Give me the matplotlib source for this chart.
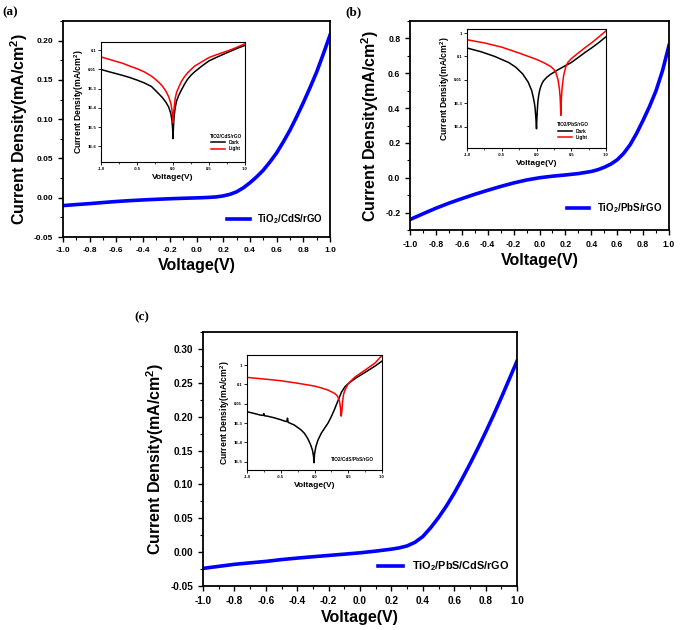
import matplotlib
matplotlib.use("Agg")
import matplotlib.pyplot as plt
from matplotlib.ticker import MultipleLocator, FixedLocator, NullLocator, FixedFormatter

plt.rcParams['font.family'] = ['Liberation Sans', 'DejaVu Sans']
plt.rcParams['font.weight'] = 'bold'
plt.rcParams['mathtext.default'] = 'regular'

# ---------------- data ----------------
# Panel (a) main J-V
va = [-1.0, -0.9, -0.8, -0.7, -0.6, -0.5, -0.4, -0.3, -0.2, -0.1, 0.0, 0.05, 0.1, 0.15, 0.2,
      0.25, 0.3, 0.35, 0.4, 0.45, 0.5, 0.55, 0.6, 0.65, 0.7, 0.75, 0.8, 0.85, 0.9, 0.95, 1.0]
ja = [-0.010, -0.0087, -0.0075, -0.0061, -0.0048, -0.0037, -0.0028, -0.0020, -0.0013, -0.0007,
      -0.0002, 0.0001, 0.0005, 0.0011, 0.0023, 0.0043, 0.0075, 0.0125, 0.019, 0.0265, 0.035,
      0.0455, 0.057, 0.071, 0.086, 0.103, 0.121, 0.140, 0.160, 0.183, 0.207]
# Panel (b) main
vb = [-1.0, -0.9, -0.8, -0.7, -0.6, -0.5, -0.4, -0.3, -0.2, -0.1, 0.0, 0.1, 0.2, 0.3, 0.4,
      0.45, 0.5, 0.55, 0.6, 0.65, 0.7, 0.75, 0.8, 0.85, 0.9, 0.95, 1.0]
jb = [-0.24, -0.207, -0.175, -0.146, -0.12, -0.095, -0.072, -0.05, -0.03, -0.013, 0.0, 0.009,
      0.016, 0.024, 0.036, 0.046, 0.06, 0.078, 0.103, 0.14, 0.19, 0.255, 0.33, 0.41, 0.50,
      0.615, 0.76]
# Panel (c) main
vc = [-1.0, -0.9, -0.8, -0.7, -0.6, -0.5, -0.4, -0.3, -0.2, -0.1, 0.0, 0.1, 0.2, 0.25, 0.3,
      0.35, 0.4, 0.45, 0.5, 0.55, 0.6, 0.65, 0.7, 0.75, 0.8, 0.85, 0.9, 0.95, 1.0]
jc = [-0.024, -0.021, -0.018, -0.0158, -0.0137, -0.011, -0.0088, -0.0068, -0.0049, -0.003,
      -0.001, 0.0015, 0.0044, 0.0063, 0.0092, 0.0145, 0.023, 0.036, 0.051, 0.068, 0.087,
      0.108, 0.130, 0.153, 0.177, 0.202, 0.228, 0.255, 0.282]

# Inset (a) |J| log
va_dark = [-1.0, -0.9, -0.8, -0.7, -0.6, -0.5, -0.4, -0.3, -0.25, -0.2, -0.15, -0.1, -0.06,
           -0.03, -0.015, -0.005, 0.0, 0.005, 0.015, 0.03, 0.05, 0.08, 0.12, 0.16, 0.2, 0.25,
           0.3, 0.4, 0.5, 0.6, 0.7, 0.8, 0.9, 1.0]
ja_dark = [0.01, 0.0078, 0.0062, 0.0049, 0.0038, 0.0028, 0.002, 0.0013, 8.5e-4, 5.5e-4, 3.5e-4,
           2e-4, 1.1e-4, 5e-5, 2.3e-5, 8e-6, 2.5e-6, 8e-6, 3.5e-5, 1e-4, 2.3e-4, 4.5e-4, 9e-4,
           1.7e-3, 3e-3, 5e-3, 7.5e-3, 0.015, 0.028, 0.042, 0.062, 0.09, 0.13, 0.18]
va_light = [-1.0, -0.9, -0.8, -0.7, -0.6, -0.5, -0.4, -0.3, -0.25, -0.2, -0.15, -0.1, -0.06,
            -0.03, -0.015, -0.005, 0.0, 0.005, 0.015, 0.03, 0.05, 0.08, 0.12, 0.16, 0.2, 0.25,
            0.3, 0.4, 0.5, 0.6, 0.7, 0.8, 0.9, 1.0]
ja_light = [0.045, 0.035, 0.027, 0.021, 0.015, 0.011, 0.0075, 0.0045, 0.0032, 2.2e-3, 1.4e-3,
            7.5e-4, 3.8e-4, 1.7e-4, 8e-5, 3.5e-5, 1.6e-5, 3.5e-5, 1e-4, 3e-4, 6.5e-4, 1.2e-3,
            2.5e-3, 4.2e-3, 6.5e-3, 0.01, 0.015, 0.025, 0.042, 0.058, 0.078, 0.105, 0.15, 0.22]

# Inset (b)
vb_dark = [-1.0, -0.8, -0.6, -0.4, -0.3, -0.2, -0.12, -0.07, -0.05, -0.03, -0.02, -0.01, -0.005,
           0.0, 0.005, 0.01, 0.02, 0.03, 0.045, 0.06, 0.08, 0.1, 0.15, 0.2, 0.3, 0.4, 0.5, 0.6,
           0.7, 0.8, 0.9, 1.0]
jb_dark = [0.23, 0.16, 0.10, 0.055, 0.035, 0.018, 0.008, 0.0035, 0.002, 0.001, 6e-4, 2.5e-4,
           1.5e-4, 8e-5, 2e-4, 4e-4, 1.2e-3, 2e-3, 3.5e-3, 5e-3, 7e-3, 9e-3, 0.013, 0.017, 0.026,
           0.038, 0.055, 0.09, 0.15, 0.24, 0.40, 0.70]
vb_light = [-1.0, -0.75, -0.5, -0.25, 0.0, 0.1, 0.2, 0.25, 0.28, 0.31, 0.33, 0.34, 0.345, 0.35,
            0.355, 0.36, 0.37, 0.39, 0.42, 0.45, 0.5, 0.6, 0.7, 0.8, 0.9, 1.0]
jb_light = [0.52, 0.38, 0.25, 0.14, 0.075, 0.055, 0.038, 0.028, 0.02, 0.01, 0.004, 1.8e-3,
            8e-4, 3e-4, 8e-4, 2e-3, 5e-3, 0.015, 0.035, 0.055, 0.08, 0.14, 0.24, 0.40, 0.70,
            1.25]

# Inset (c)
vc_dark = [-1.0, -0.9, -0.8, -0.76, -0.75, -0.74, -0.7, -0.6, -0.5, -0.45, -0.41, -0.4, -0.39,
           -0.3, -0.25, -0.2, -0.15, -0.1, -0.06, -0.03, -0.015, -0.007, 0.0, 0.02, 0.05, 0.1,
           0.15, 0.2, 0.25, 0.3, 0.35, 0.4, 0.45, 0.5, 0.6, 0.75, 0.9, 1.0]
jc_dark = [3.9e-3, 3.2e-3, 2.6e-3, 2.5e-3, 3.1e-3, 2.4e-3, 2.3e-3, 1.9e-3, 1.5e-3, 1.3e-3,
           1.2e-3, 1.8e-3, 1.1e-3, 8e-4, 6e-4, 4.5e-4, 3e-4, 1.6e-4, 8e-5, 4e-5, 2e-5, 9e-6,
           2.5e-5, 6e-5, 1.3e-4, 3e-4, 5.5e-4, 1e-3, 2.2e-3, 5.5e-3, 0.015, 0.04, 0.075, 0.11,
           0.2, 0.42, 0.9, 1.6]
vc_light = [-1.0, -0.75, -0.5, -0.25, 0.0, 0.1, 0.2, 0.3, 0.34, 0.37, 0.385, 0.395, 0.405,
            0.415, 0.43, 0.45, 0.5, 0.6, 0.75, 0.9, 1.0]
jc_light = [0.23, 0.19, 0.155, 0.115, 0.082, 0.066, 0.051, 0.034, 0.025, 0.014, 0.006, 2.3e-3,
            4e-3, 0.012, 0.03, 0.05, 0.11, 0.24, 0.55, 1.3, 3.2]

xticks_main = [-1.0, -0.8, -0.6, -0.4, -0.2, 0.0, 0.2, 0.4, 0.6, 0.8, 1.0]

fig = plt.figure(figsize=(6.85, 6.3), dpi=100)
W, H = 685, 630


def rect(l, t, r, b):
    return [l / W, 1 - b / H, (r - l) / W, (b - t) / H]


def style_main(ax, tsize):
    for s in ax.spines.values():
        s.set_linewidth(1.3)
    ax.tick_params(which='major', direction='out', length=3.5, width=1.0, labelsize=tsize,
                   top=False, right=False)
    ax.tick_params(which='minor', direction='out', length=2, width=0.8, top=False, right=False)
    ax.set_xlim(-1, 1)
    ax.set_xticks(xticks_main)
    ax.set_xticklabels([f"{t:.1f}" for t in xticks_main])
    ax.xaxis.set_minor_locator(MultipleLocator(0.1))
    ax.set_xlabel("Voltage(V)", fontsize=11.5, fontweight='bold', labelpad=3)
    ax.set_ylabel("Current Density(mA/cm$^2$)", fontsize=11.5, fontweight='bold', labelpad=3)
    for lab in ax.get_xticklabels() + ax.get_yticklabels():
        lab.set_fontweight('bold')


def style_inset(ax, ylo, yhi, yt, ytl):
    for s in ax.spines.values():
        s.set_linewidth(0.8)
    ax.set_yscale('log')
    ax.set_xlim(-1, 1)
    ax.set_ylim(ylo, yhi)
    ax.xaxis.set_major_locator(FixedLocator([-1.0, -0.5, 0.0, 0.5, 1.0]))
    ax.xaxis.set_major_formatter(FixedFormatter(["-1.0", "-0.5", "0.0", "0.5", "1.0"]))
    ax.xaxis.set_minor_locator(MultipleLocator(0.25))
    ax.yaxis.set_major_locator(FixedLocator(yt))
    ax.yaxis.set_major_formatter(FixedFormatter(ytl))
    ax.yaxis.set_minor_locator(NullLocator())
    ax.tick_params(which='major', direction='out', length=2, width=0.6, labelsize=3, pad=1.5,
                   top=False, right=False)
    ax.tick_params(which='minor', direction='out', length=1.2, width=0.5, top=False, right=False)
    ax.set_xlabel("Voltage(V)", fontsize=6, fontweight='bold', labelpad=2)
    ax.set_ylabel("Current Density(mA/cm$^2$)", fontsize=6.2, fontweight='bold', labelpad=1)


# ---------- Panel (a) ----------
axa = fig.add_axes(rect(63, 21, 330, 237))
axa.plot(va, ja, color='#0000ff', lw=2.6, label="TiO$_2$/CdS/rGO")
axa.set_ylim(-0.05, 0.225)
axa.yaxis.set_major_locator(FixedLocator([-0.05, 0.0, 0.05, 0.10, 0.15, 0.20]))
axa.yaxis.set_major_formatter(FixedFormatter(["-0.05", "0.00", "0.05", "0.10", "0.15", "0.20"]))
axa.yaxis.set_minor_locator(MultipleLocator(0.025))
style_main(axa, 6)
axa.legend(loc='lower right', bbox_to_anchor=(1.0, 0.02), frameon=False,
           prop={'size': 7, 'weight': 'bold'}, handlelength=2.3, borderaxespad=0.3)
fig.text(2 / W, 1 - 12 / H, "(a)", fontsize=9.5, fontweight='bold', family='Liberation Serif',
         va='center', ha='left')

ia = fig.add_axes(rect(101, 42, 245, 162))
ia.plot(va_dark, ja_dark, color='black', lw=1.1, label='Dark')
ia.plot(va_light, ja_light, color='red', lw=1.1, label='Light')
style_inset(ia, 1.5e-7, 0.27, [0.1, 0.01, 1e-3, 1e-4, 1e-5, 1e-6],
            ["0.1", "0.01", "1E-3", "1E-4", "1E-5", "1E-6"])
ia.legend(loc='lower right', bbox_to_anchor=(1.0, 0.06), frameon=False,
          title="TiO2/CdS/rGO", prop={'size': 3.4, 'weight': 'bold'},
          title_fontsize=3.4, handlelength=3, labelspacing=0.3, borderaxespad=0.3)

# ---------- Panel (b) ----------
axb = fig.add_axes(rect(410, 21, 669, 230))
axb.plot(vb, jb, color='#0000ff', lw=2.6, label="TiO$_2$/PbS/rGO")
axb.set_ylim(-0.3, 0.9)
axb.yaxis.set_major_locator(FixedLocator([-0.2, 0.0, 0.2, 0.4, 0.6, 0.8]))
axb.yaxis.set_major_formatter(FixedFormatter(["-0.2", "0.0", "0.2", "0.4", "0.6", "0.8"]))
axb.yaxis.set_minor_locator(MultipleLocator(0.1))
style_main(axb, 6.2)
axb.legend(loc='lower right', bbox_to_anchor=(1.0, 0.04), frameon=False,
           prop={'size': 7, 'weight': 'bold'}, handlelength=2.3, borderaxespad=0.3)
fig.text(345 / W, 1 - 12 / H, "(b)", fontsize=9.5, fontweight='bold', family='Liberation Serif',
         va='center', ha='left')

ib = fig.add_axes(rect(467, 29, 606, 148))
ib.plot(vb_dark, jb_dark, color='black', lw=1.1, label='Dark')
ib.plot(vb_light, jb_light, color='red', lw=1.1, label='Light')
style_inset(ib, 1.2e-5, 1.5, [1, 0.1, 0.01, 1e-3, 1e-4],
            ["1", "0.1", "0.01", "1E-3", "1E-4"])
ib.legend(loc='lower left', bbox_to_anchor=(0.62, 0.04), frameon=False,
          title="TiO2/PbS/rGO", prop={'size': 3.4, 'weight': 'bold'},
          title_fontsize=3.4, handlelength=3, labelspacing=0.3, borderaxespad=0.3)

# ---------- Panel (c) ----------
axc = fig.add_axes(rect(203, 332, 517, 586))
axc.plot(vc, jc, color='#0000ff', lw=2.6, label="TiO$_2$/PbS/CdS/rGO")
axc.set_ylim(-0.05, 0.325)
axc.yaxis.set_major_locator(FixedLocator([-0.05, 0.0, 0.05, 0.10, 0.15, 0.20, 0.25, 0.30]))
axc.yaxis.set_major_formatter(FixedFormatter(["-0.05", "0.00", "0.05", "0.10", "0.15", "0.20",
                                              "0.25", "0.30"]))
axc.yaxis.set_minor_locator(MultipleLocator(0.025))
style_main(axc, 7.2)
axc.legend(loc='lower right', bbox_to_anchor=(1.0, 0.02), frameon=False,
           prop={'size': 7.8, 'weight': 'bold'}, handlelength=2.3, borderaxespad=0.3)
fig.text(134 / W, 1 - 317 / H, "(c)", fontsize=9.5, fontweight='bold', family='Liberation Serif',
         va='center', ha='left')

ic = fig.add_axes(rect(247, 355, 382, 470))
ic.plot(vc_dark, jc_dark, color='black', lw=1.1)
ic.plot(vc_light, jc_light, color='red', lw=1.1)
style_inset(ic, 3.8e-6, 3.3, [1, 0.1, 0.01, 1e-3, 1e-4, 1e-5],
            ["1", "0.1", "0.01", "1E-3", "1E-4", "1E-5"])
ic.text(0.78, 0.09, "TiO2/CdS/PbS/rGO", transform=ic.transAxes, fontsize=3.4,
        fontweight='bold', ha='center', va='center')

fig.savefig("out.png", dpi=100)
